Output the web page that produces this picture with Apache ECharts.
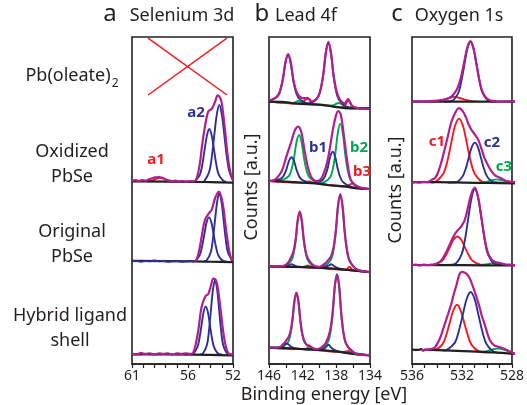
<!DOCTYPE html>
<html><head><meta charset="utf-8">
<script src="https://cdn.jsdelivr.net/npm/echarts@6/dist/echarts.min.js"></script>
<style>html,body{margin:0;padding:0;background:#fff}#c{width:527px;height:405px}</style>
</head><body><div id="c"></div>
<script>
// ---------- tick labels ----------
const aTicks = [61, 56, 52];
const bTicks = [146, 142, 138, 134];
const cTicks = [536, 532, 528];

// ---------- panel a : Selenium 3d ----------
const aCross1 = [[59.57, 0.985], [52.54, 0.147]];
const aCross2 = [[59.57, 0.147], [52.54, 0.985]];

const a2_env = [[61,.05],[60.7,.06],[60.4,.05],[60.1,.06],[59.8,.055],[59.5,.07],[59.2,.085],[58.9,.095],[58.6,.10],[58.3,.09],[58.0,.07],[57.7,.055],[57.4,.05],[57.1,.055],[56.8,.045],[56.5,.05],[56.2,.04],[55.9,.05],[55.6,.045],[55.4,.05],[55.2,.10],[54.95,.27],[54.75,.50],[54.5,.73],[54.2,.92],[53.9,.95],[53.6,1.04],[53.36,1.12],[53.15,1.09],[53.0,1.02],[52.85,.86],[52.7,.67],[52.55,.46],[52.4,.29],[52.25,.17],[52.1,.09],[52.0,.065]];
const a2_a1 = [[59.5,.045],[59.1,.06],[58.8,.08],[58.5,.09],[58.2,.08],[57.9,.06],[57.5,.045]];
const a2_blue1 = [[55.6,.04],[55.37,.05],[54.95,.13],[54.74,.25],[54.53,.44],[54.32,.62],[54.11,.70],[53.90,.62],[53.69,.44],[53.48,.25],[53.27,.13],[52.85,.05],[52.6,.04]];
const a2_blue2 = [[54.8,.035],[54.57,.045],[54.12,.165],[53.895,.345],[53.67,.62],[53.445,.88],[53.22,1.0],[52.995,.88],[52.77,.62],[52.545,.345],[52.32,.165],[52.0,.06]];
const a2_bg = [[61,.045],[55.5,.04],[54,.035],[52,.03]];

const a3_raw = [[61,.08],[60.6,.085],[60.2,.075],[59.8,.085],[59.4,.08],[59.0,.09],[58.6,.08],[58.2,.085],[57.8,.075],[57.4,.08],[57.0,.085],[56.6,.075],[56.2,.08],[55.8,.085],[55.4,.08]];
const a3_env = [[55.4,.08],[55.24,.10],[55.0,.22],[54.79,.38],[54.5,.58],[54.14,.66],[53.9,.70],[53.6,.84],[53.25,.92],[52.92,.78],[52.62,.46],[52.33,.20],[52.15,.11],[52.0,.09]];
const a3_blue1 = [[55.6,.08],[55.4,.085],[54.98,.15],[54.77,.25],[54.56,.40],[54.35,.55],[54.14,.61],[53.93,.55],[53.72,.40],[53.51,.25],[53.30,.15],[52.88,.085],[52.6,.08]];
const a3_blue2 = [[54.6,.08],[54.36,.09],[53.98,.19],[53.79,.35],[53.6,.58],[53.41,.80],[53.22,.90],[53.03,.80],[52.84,.58],[52.65,.35],[52.46,.19],[52.08,.09],[52.0,.08]];
const a3_bg = [[61,.085],[55.5,.08],[54,.075],[52,.07]];

const a4_env = [[61,.11],[60.6,.10],[60.2,.115],[59.8,.105],[59.4,.11],[59.0,.10],[58.6,.11],[58.2,.105],[57.8,.11],[57.4,.10],[57.0,.11],[56.6,.105],[56.2,.11],[55.8,.105],[55.54,.12],[55.3,.22],[55.09,.35],[54.79,.60],[54.43,.71],[54.2,.73],[53.96,.82],[53.75,.89],[53.55,.88],[53.35,.79],[53.1,.56],[52.8,.28],[52.5,.13],[52.2,.10],[52.0,.10]];
const a4_blue1 = [[55.8,.10],[55.57,.105],[55.19,.17],[55.0,.26],[54.81,.40],[54.62,.54],[54.43,.60],[54.24,.54],[54.05,.40],[53.86,.26],[53.67,.17],[53.29,.105],[53.0,.10]];
const a4_blue2 = [[54.9,.10],[54.68,.11],[54.32,.20],[54.14,.35],[53.96,.57],[53.78,.78],[53.6,.87],[53.42,.78],[53.24,.57],[53.06,.35],[52.88,.20],[52.52,.11],[52.0,.095]];
const a4_bg = [[61,.10],[55.5,.098],[54,.095],[52,.09]];

// ---------- panel b : Lead 4f ----------
const b1_bg = [[146,.05],[144.5,.045],[143,.025],[141.5,.012],[140,.005],[139,-.01],[138,-.03],[137,-.045],[136,-.05],[134,-.05]];
const b1_blue = [[146,.068],[145.53,.082],[144.93,.136],[144.63,.227],[144.33,.39],[144.03,.63],[143.73,.73],[143.43,.62],[143.13,.375],[142.83,.20],[142.53,.11],[141.93,.05],[141.33,.024],[140.74,.053],[140.14,.124],[139.84,.24],[139.54,.457],[139.24,.775],[138.94,.91],[138.64,.765],[138.34,.44],[138.04,.21],[137.74,.087],[137.14,.004],[136.54,-.034],[134,-.05]];
const b1_green = [[146,.05],[143.5,.03],[143.0,.035],[142.75,.05],[142.5,.06],[142.25,.05],[142.0,.03],[141.5,.013],[140,.005],[138.75,-.01],[138.25,.0],[138.0,.02],[137.75,.03],[137.5,.02],[137.25,.0],[136.75,-.04],[136,-.05],[134,-.05]];
const b1_red = [[146,.05],[142.65,.02],[142.25,.03],[142.05,.045],[141.85,.06],[141.65,.08],[141.45,.09],[141.25,.08],[141.05,.05],[140.85,.03],[140.45,.01],[139,-.01],[137.8,-.03],[137.4,-.035],[137.0,-.015],[136.8,.03],[136.6,.07],[136.4,.04],[136.2,-.005],[135.8,-.04],[134,-.05]];
const b1_env = [[146,.07],[145.53,.085],[144.93,.14],[144.63,.23],[144.33,.40],[144.03,.64],[143.73,.75],[143.43,.64],[143.13,.39],[142.83,.23],[142.53,.15],[142.2,.11],[141.9,.10],[141.65,.10],[141.45,.105],[141.2,.085],[140.9,.055],[140.6,.06],[140.14,.13],[139.84,.245],[139.54,.46],[139.24,.78],[138.94,.93],[138.64,.77],[138.34,.45],[138.04,.235],[137.74,.12],[137.4,.05],[137.0,.025],[136.8,.055],[136.6,.085],[136.4,.05],[136.1,-.015],[135.6,-.04],[134.5,-.055],[134,-.055]];

const b2_bg = [[146,.05],[144.5,.045],[143,.035],[141.5,.025],[140,.015],[139,.0],[138,-.008],[137,-.018],[136,-.035],[135,-.045],[134,-.05]];
const b2_green = [[146,.055],[144.83,.056],[144.23,.072],[143.63,.115],[143.33,.19],[143.03,.335],[142.73,.54],[142.43,.625],[142.13,.535],[141.83,.33],[141.53,.18],[141.23,.10],[140.63,.05],[140.03,.024],[139.33,.043],[138.73,.097],[138.43,.195],[138.13,.383],[137.83,.65],[137.53,.767],[137.23,.645],[136.93,.37],[136.63,.175],[136.33,.07],[135.73,-.001],[135.13,-.032],[134,-.05]];
const b2_blue = [[146,.055],[145.73,.055],[145.13,.063],[144.53,.084],[144.23,.122],[143.93,.195],[143.63,.30],[143.33,.347],[143.03,.30],[142.73,.19],[142.43,.11],[142.13,.068],[141.53,.04],[140.9,.025],[140.23,.037],[139.63,.062],[139.33,.114],[139.03,.21],[138.73,.354],[138.43,.415],[138.13,.35],[137.83,.20],[137.53,.097],[137.23,.04],[136.63,-.004],[136.03,-.029],[134,-.05]];
const b2_red = [[146,.05],[142.3,.03],[141.9,.03],[141.5,.04],[141.2,.045],[140.9,.035],[140.5,.02],[139,.0],[137.0,-.018],[136.6,-.01],[136.3,.01],[136.1,.02],[135.85,.005],[135.5,-.035],[134,-.05]];
const b2_env = [[146,.05],[145.69,.05],[145.1,.085],[144.5,.17],[143.92,.36],[143.33,.55],[142.94,.68],[142.55,.73],[142.16,.66],[141.76,.42],[141.37,.22],[140.98,.10],[140.39,.05],[139.8,.08],[139.2,.24],[138.82,.43],[138.43,.68],[138.04,.87],[137.77,.925],[137.45,.87],[137.06,.58],[136.67,.27],[136.27,.06],[135.69,-.01],[134.7,-.045],[134,-.05]];

const b3_bg = [[146,.02],[144,.015],[142,.01],[140,.005],[138,-.01],[136,-.03],[134,-.05]];
const b3_green = [[146,.02],[144.23,.024],[143.76,.046],[143.29,.098],[143.055,.18],[142.82,.34],[142.585,.57],[142.35,.67],[142.115,.57],[141.88,.34],[141.645,.18],[141.41,.095],[140.94,.04],[140.47,.017],[140.1,.012],[139.65,.016],[139.12,.043],[138.59,.11],[138.325,.22],[138.06,.435],[137.795,.745],[137.53,.875],[137.265,.74],[137.0,.425],[136.735,.21],[136.47,.09],[135.94,.014],[135.41,-.024],[134,-.05]];
const b3_blue = [[146,.02],[144.5,.017],[144.0,.02],[143.6,.035],[143.33,.045],[143.05,.035],[142.6,.015],[140,.005],[139.4,.012],[138.9,.03],[138.63,.045],[138.35,.03],[137.9,.0],[137,-.02],[136,-.03],[134,-.05]];
const b3_red = [[146,.02],[142.2,.01],[141.8,.015],[141.37,.03],[141.0,.015],[140.6,.008],[137,-.02],[136.8,-.02],[136.47,.015],[136.15,-.015],[135.6,-.035],[134,-.05]];
const b3_env = [[146,.02],[145,.02],[144.23,.026],[143.76,.06],[143.33,.14],[143.055,.215],[142.82,.355],[142.585,.58],[142.35,.68],[142.115,.58],[141.88,.355],[141.645,.20],[141.41,.12],[140.94,.05],[140.47,.02],[140,.015],[139.65,.03],[139.12,.075],[138.85,.11],[138.59,.15],[138.325,.25],[138.06,.45],[137.795,.755],[137.53,.89],[137.265,.75],[137.0,.43],[136.735,.215],[136.47,.10],[135.94,.015],[135.41,-.025],[134,-.05]];

const b4_bg = [[146,.17],[144,.165],[142,.155],[140,.145],[138,.13],[136,.105],[134,.09]];
const b4_green = [[146,.17],[144.62,.174],[144.15,.192],[143.68,.236],[143.445,.31],[143.21,.45],[142.975,.65],[142.74,.738],[142.505,.65],[142.27,.446],[142.035,.305],[141.8,.23],[141.33,.18],[140.86,.158],[140.4,.15],[139.92,.156],[139.42,.18],[138.92,.242],[138.67,.344],[138.42,.535],[138.17,.814],[137.92,.933],[137.67,.81],[137.42,.528],[137.17,.333],[136.92,.226],[136.42,.153],[135.92,.117],[134,.09]];
const b4_blue = [[146,.17],[145,.168],[144.6,.175],[144.3,.19],[144.1,.205],[143.92,.215],[143.7,.205],[143.45,.185],[143.0,.165],[141,.15],[139.9,.145],[139.5,.16],[139.2,.18],[138.94,.20],[138.7,.18],[138.4,.155],[137.8,.133],[136,.105],[134,.09]];
const b4_red = [[146,.17],[142,.155],[141.6,.16],[141.18,.17],[140.8,.158],[140.4,.148],[137.2,.125],[136.9,.13],[136.59,.135],[136.3,.12],[135.9,.105],[134,.09]];
const b4_env = [[146,.17],[145,.17],[144.62,.18],[144.3,.21],[144.15,.22],[143.92,.25],[143.68,.28],[143.445,.34],[143.21,.47],[142.975,.66],[142.74,.745],[142.505,.655],[142.27,.45],[142.035,.31],[141.8,.24],[141.5,.20],[141.18,.19],[140.86,.17],[140.4,.155],[139.92,.165],[139.42,.20],[139.2,.23],[138.92,.29],[138.67,.38],[138.42,.555],[138.17,.82],[137.92,.935],[137.67,.815],[137.42,.53],[137.17,.335],[136.92,.23],[136.59,.175],[136.42,.16],[135.92,.12],[135.4,.10],[134,.09]];

// ---------- panel c : Oxygen 1s ----------
const c1_bg = [[536,.05],[528,.05]];
const c1_blue = [[533.5,.05],[532.9,.06],[532.42,.17],[532.18,.336],[531.94,.585],[531.70,.826],[531.46,.93],[531.22,.826],[530.98,.585],[530.74,.336],[530.5,.17],[530.02,.06],[529.5,.05]];
const c1_red = [[534.5,.05],[533.9,.06],[533.3,.09],[532.7,.12],[532.1,.09],[531.5,.06],[530.9,.05]];
const c1_env = [[536,.05],[535.6,.055],[535.2,.05],[534.8,.055],[534.4,.06],[534.0,.065],[533.6,.075],[533.3,.09],[532.9,.13],[532.6,.20],[532.42,.27],[532.18,.42],[531.94,.64],[531.70,.85],[531.46,.94],[531.22,.83],[530.98,.59],[530.74,.34],[530.5,.18],[530.2,.10],[529.9,.065],[529.5,.055],[529.0,.05],[528.5,.055],[528,.05]];

const c2_bg = [[536,.035],[534,.035],[532,.03],[530,.025],[528,.02]];
const c2_red = [[534.5,.03],[534.18,.04],[533.57,.14],[533.265,.29],[532.96,.52],[532.655,.74],[532.35,.83],[532.045,.74],[531.74,.52],[531.435,.29],[531.13,.14],[530.52,.04],[530.0,.03]];
const c2_blue = [[533.2,.03],[532.59,.035],[532.1,.10],[531.855,.19],[531.61,.33],[531.365,.47],[531.12,.53],[530.875,.47],[530.63,.33],[530.385,.19],[530.14,.10],[529.65,.035],[529.0,.03]];
const c2_green = [[530.8,.03],[530.3,.035],[529.9,.055],[529.43,.07],[528.95,.055],[528.5,.035],[528.1,.03]];
const c2_env = [[536,.03],[535.7,.035],[535.4,.03],[535.1,.04],[534.8,.035],[534.5,.06],[534.2,.09],[533.99,.15],[533.73,.28],[533.47,.44],[533.2,.62],[532.94,.79],[532.62,.91],[532.35,.96],[532.05,.92],[531.77,.83],[531.58,.75],[531.38,.69],[531.12,.63],[530.87,.57],[530.6,.45],[530.35,.33],[530.08,.24],[529.82,.17],[529.55,.12],[529.3,.10],[529.05,.08],[528.8,.06],[528.5,.045],[528.2,.04],[528,.035]];

const c3_bg = [[536,.036],[532,.034],[528,.03]];
const c3_blue = [[533.2,.036],[532.68,.046],[532.16,.16],[531.90,.33],[531.64,.59],[531.38,.84],[531.12,.95],[530.86,.84],[530.60,.59],[530.34,.33],[530.08,.16],[529.56,.046],[529.0,.036]];
const c3_red = [[534.6,.036],[534.28,.04],[533.68,.083],[533.38,.15],[533.08,.245],[532.78,.34],[532.48,.38],[532.18,.34],[531.88,.245],[531.58,.15],[531.28,.083],[530.68,.04],[530.2,.036]];
const c3_green = [[530.6,.036],[530.1,.045],[529.62,.06],[529.15,.045],[528.6,.036]];
const c3_env = [[536,.035],[535.7,.04],[535.4,.03],[535.1,.04],[534.8,.035],[534.5,.04],[534.28,.045],[533.98,.06],[533.68,.10],[533.38,.18],[533.08,.28],[532.78,.38],[532.48,.45],[532.18,.50],[531.9,.58],[531.64,.74],[531.38,.90],[531.12,.97],[530.86,.85],[530.6,.60],[530.34,.34],[530.08,.17],[529.8,.10],[529.56,.075],[529.2,.06],[528.8,.045],[528.4,.04],[528,.035]];

const c4_bg = [[536,.15],[535.5,.148],[535.3,.155],[535.15,.14],[535.0,.15],[534,.145],[532,.135],[530,.122],[529,.115],[528,.105]];
const c4_blue = [[533.6,.14],[533.3,.147],[532.68,.22],[532.37,.34],[532.06,.51],[531.75,.68],[531.44,.75],[531.13,.675],[530.82,.50],[530.51,.325],[530.2,.205],[529.58,.125],[529.0,.115]];
const c4_red = [[534.5,.145],[534.21,.148],[533.64,.205],[533.355,.295],[533.07,.43],[532.785,.56],[532.5,.617],[532.215,.555],[531.93,.425],[531.645,.29],[531.36,.197],[530.79,.132],[530.2,.122]];
const c4_green = [[530.8,.127],[530.3,.13],[529.8,.15],[529.3,.16],[528.8,.145],[528.3,.12],[528,.11]];
const c4_env = [[535.3,.15],[535.0,.145],[534.6,.155],[534.25,.17],[533.85,.26],[533.47,.41],[533.2,.52],[532.94,.63],[532.75,.73],[532.55,.82],[532.3,.94],[532.1,.96],[531.9,.95],[531.7,.93],[531.51,.89],[531.3,.82],[531.12,.75],[530.93,.67],[530.73,.58],[530.55,.49],[530.35,.41],[530.15,.32],[529.96,.25],[529.75,.21],[529.57,.19],[529.3,.18],[529.04,.17],[528.8,.155],[528.53,.14],[528.3,.125],[528.14,.11],[528,.105]];

// ---------- text ----------
const panelLetters = ['a', 'b', 'c'];
const panelTitles = ['Selenium 3d', 'Lead 4f', 'Oxygen 1s'];
const rowLabels = ['Pb(oleate)', 'Oxidized\nPbSe', 'Original\nPbSe', 'Hybrid ligand\nshell'];
const yTitle = 'Counts [a.u.]';
const xTitle = 'Binding energy [eV]';

// ---------- layout / style ----------
const FONT = '"Noto Sans", "Open Sans", sans-serif';
const INK = '#231f20', MAG = '#b01f8e', BLU = '#2e3192', GRN = '#00a651', RED = '#ed1c24';
const colLeft = [132, 269, 412], colWidth = [101, 101, 103];
const colRange = [[52, 61, 1], [134, 146, 2], [528, 536, 1]];
const colTicks = [aTicks, bTicks, cTicks];
const rowTop = [37, 105, 185, 268], rowH = [68, 80, 83, 96];

const grid = [], xAxis = [], yAxis = [], series = [];
for (let c = 0; c < 3; c++) {
  grid.push({left: colLeft[c], top: 37, width: colWidth[c], height: 327, show: true,
    borderColor: INK, borderWidth: 1.6, backgroundColor: 'transparent'});
  const ticks = colTicks[c];
  xAxis.push({gridIndex: c, type: 'value', min: colRange[c][0], max: colRange[c][1], interval: colRange[c][2],
    inverse: true, splitLine: {show: false},
    axisLine: {show: true, lineStyle: {color: INK, width: 1.6}},
    axisTick: {show: true, length: 4, lineStyle: {color: INK, width: 1.2}},
    axisLabel: {show: true, fontSize: 14, color: INK, fontFamily: FONT, margin: 5,
      showMinLabel: true, showMaxLabel: true, hideOverlap: false,
      formatter: v => ticks.indexOf(v) >= 0 ? String(v) : ''}});
  yAxis.push({gridIndex: c, type: 'value', min: 0, max: 1, show: false});
}
function subIndex(c, r) { return 3 + c * 4 + r; }
for (let c = 0; c < 3; c++) for (let r = 0; r < 4; r++) {
  const gi = subIndex(c, r);
  grid.push({left: colLeft[c], top: rowTop[r], width: colWidth[c], height: rowH[r]});
  xAxis.push({gridIndex: gi, type: 'value', min: colRange[c][0], max: colRange[c][1], inverse: true, show: false});
  yAxis.push({gridIndex: gi, type: 'value', min: 0, max: 1, show: false});
}
function addLine(c, r, data, color, width, z, smooth) {
  const gi = subIndex(c, r);
  series.push({type: 'line', xAxisIndex: gi, yAxisIndex: gi, data: data, symbol: 'none',
    smooth: smooth === undefined ? 0.35 : smooth, clip: false, silent: true, z: z,
    lineStyle: {color: color, width: width}});
}
const CW = 1.9, EW = 2.2, BW = 2.2;
// panel a
addLine(0, 0, aCross1, RED, 1.5, 3, false);
addLine(0, 0, aCross2, RED, 1.5, 3, false);
addLine(0, 1, a2_bg, INK, BW, 4); addLine(0, 1, a2_a1, RED, CW, 3);
addLine(0, 1, a2_blue1, BLU, CW, 3); addLine(0, 1, a2_blue2, BLU, CW, 3); addLine(0, 1, a2_env, MAG, EW, 5);
addLine(0, 2, a3_bg, INK, BW, 4); addLine(0, 2, a3_raw, BLU, CW, 5);
addLine(0, 2, a3_blue1, BLU, CW, 3); addLine(0, 2, a3_blue2, BLU, CW, 3); addLine(0, 2, a3_env, MAG, EW, 5);
addLine(0, 3, a4_bg, INK, BW, 4);
addLine(0, 3, a4_blue1, BLU, CW, 3); addLine(0, 3, a4_blue2, BLU, CW, 3); addLine(0, 3, a4_env, MAG, EW, 5);
// panel b
const bRows = [[b1_bg, b1_red, b1_green, b1_blue, b1_env], [b2_bg, b2_red, b2_green, b2_blue, b2_env],
  [b3_bg, b3_red, b3_green, b3_blue, b3_env], [b4_bg, b4_red, b4_green, b4_blue, b4_env]];
bRows.forEach((d, r) => {
  addLine(1, r, d[0], INK, BW, 4); addLine(1, r, d[1], RED, CW, 3); addLine(1, r, d[2], GRN, CW, 3);
  addLine(1, r, d[3], BLU, CW, 3); addLine(1, r, d[4], MAG, EW, 5);
});
// panel c
const cRows = [[c1_bg, c1_red, null, c1_blue, c1_env], [c2_bg, c2_red, c2_green, c2_blue, c2_env],
  [c3_bg, c3_red, c3_green, c3_blue, c3_env], [c4_bg, c4_red, c4_green, c4_blue, c4_env]];
cRows.forEach((d, r) => {
  addLine(2, r, d[0], INK, BW, 4); addLine(2, r, d[1], RED, CW, 3);
  if (d[2]) addLine(2, r, d[2], GRN, CW, 3);
  addLine(2, r, d[3], BLU, CW, 3); addLine(2, r, d[4], MAG, EW, 5);
});

function txt(x, y, text, size, color, opts) {
  const o = Object.assign({weight: 'normal', rot: 0, align: 'center'}, opts || {});
  return {type: 'text', x: x, y: y, rotation: o.rot, z: 50, silent: true,
    style: {text: text, fill: color, font: o.weight + ' ' + size + 'px ' + FONT,
      align: o.align, verticalAlign: 'middle', lineHeight: o.lh || size * 1.35}};
}
const graphic = [
  txt(110, 14, panelLetters[0], 24, INK), txt(182, 16, panelTitles[0], 18, INK),
  txt(262, 14, panelLetters[1], 24, INK), txt(306, 16, panelTitles[1], 18, INK),
  txt(397, 14, panelLetters[2], 24, INK), txt(459, 16, panelTitles[2], 18, INK),
  {type: 'text', x: 72, y: 73, z: 50, silent: true,
    style: {text: '{n|' + rowLabels[0] + '}{s|2}', align: 'center', verticalAlign: 'middle',
      rich: {n: {fontSize: 18, fontFamily: FONT, fill: INK, lineHeight: 24, verticalAlign: 'bottom'},
             s: {fontSize: 12, fontFamily: FONT, fill: INK, lineHeight: 24, verticalAlign: 'bottom', padding: [0, 0, -5, 1]}}}},
  txt(72, 164, rowLabels[1], 18, INK, {lh: 25}),
  txt(72, 244, rowLabels[2], 18, INK, {lh: 25}),
  txt(70, 328, rowLabels[3], 18, INK, {lh: 25}),
  txt(252, 187, yTitle, 18, INK, {rot: Math.PI / 2}),
  txt(396, 190, yTitle, 18, INK, {rot: Math.PI / 2}),
  txt(324, 395, xTitle, 18, INK),
  txt(156, 160, 'a1', 15, RED, {weight: 'bold'}),
  txt(196, 113, 'a2', 15, BLU, {weight: 'bold'}),
  txt(318, 148, 'b1', 15, BLU, {weight: 'bold'}),
  txt(359, 148, 'b2', 15, GRN, {weight: 'bold'}),
  txt(362, 172, 'b3', 15, RED, {weight: 'bold'}),
  txt(437, 142, 'c1', 15, RED, {weight: 'bold'}),
  txt(492, 143, 'c2', 15, BLU, {weight: 'bold'}),
  txt(504, 167, 'c3', 15, GRN, {weight: 'bold'})
];

const chart = echarts.init(document.getElementById('c'), null, {renderer: 'canvas'});
chart.setOption({animation: false, backgroundColor: '#fff', grid, xAxis, yAxis, series, graphic});
</script></body></html>
